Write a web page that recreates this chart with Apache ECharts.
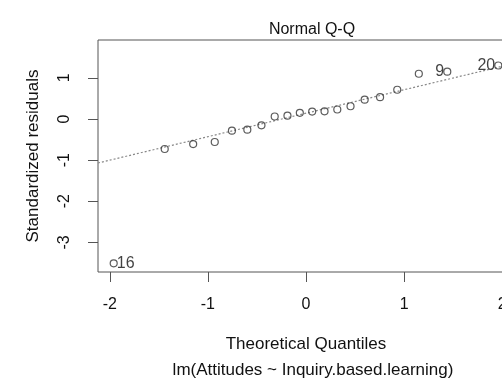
<!DOCTYPE html>
<html>
<head>
<meta charset="utf-8">
<script src="https://cdn.jsdelivr.net/npm/echarts@6/dist/echarts.min.js"></script>
<style>html,body{margin:0;padding:0;background:#fff}#c{width:502px;height:379px}</style>
</head>
<body>
<div id="c"></div>
<script>
// Theoretical quantiles (n = 20)
var quantiles = [-1.96, -1.44, -1.15, -0.93, -0.755, -0.598, -0.454, -0.319, -0.189, -0.063,
                 0.063, 0.189, 0.319, 0.454, 0.598, 0.755, 0.93, 1.15, 1.44, 1.96];
// Standardized residuals (sorted)
var residuals = [-3.51, -0.73, -0.61, -0.56, -0.285, -0.26, -0.155, 0.06, 0.08, 0.15,
                 0.18, 0.185, 0.23, 0.31, 0.47, 0.53, 0.71, 1.10, 1.15, 1.30];
// Point labels (observation numbers for extreme points)
var pointLabels = ['16', '', '', '', '', '', '', '', '', '', '', '', '', '', '', '', '', '', '9', '20'];
// Reference (qq) line endpoints
var lineQ = [-2.12, 2.12];
var lineR = [-1.07, 1.35];
// Tick labels
var xTicks = [-2, -1, 0, 1, 2];
var yTicks = [-3, -2, -1, 0, 1];

var FONT = "'Liberation Sans', Arial, sans-serif";
var chart = echarts.init(document.getElementById('c'), null, {renderer: 'canvas'});

var pts = quantiles.map(function (q, i) {
  return {value: [q, residuals[i]], name: pointLabels[i],
          label: {position: q < 0 ? 'right' : 'left'}};
});
var lineData = lineQ.map(function (q, i) { return [q, lineR[i]]; });

chart.setOption({
  animation: false,
  backgroundColor: '#fff',
  title: [
    {text: 'Normal Q-Q', left: 307, top: 17, textAlign: 'center',
     textStyle: {fontFamily: FONT, fontSize: 16, fontWeight: 'normal', color: '#111'}},
    {text: 'lm(Attitudes ~ Inquiry.based.learning)', left: 308, top: 357, textAlign: 'center',
     textStyle: {fontFamily: FONT, fontSize: 17, fontWeight: 'normal', color: '#111'}}
  ],
  grid: {left: 98, top: 40, width: 416, height: 232, show: true, outerBoundsMode: 'none',
         containLabel: false,
         borderColor: '#555', borderWidth: 1, backgroundColor: 'transparent'},
  xAxis: {
    type: 'value', min: -2.12, max: 2.12,
    name: 'Theoretical Quantiles', nameLocation: 'middle', nameGap: 64,
    nameTextStyle: {fontFamily: FONT, fontSize: 17, color: '#111'},
    axisLine: {show: false, onZero: false},
    splitLine: {show: false},
    axisTick: {show: true, length: 10, lineStyle: {color: '#555'}, customValues: xTicks},
    axisLabel: {fontFamily: FONT, fontSize: 16, color: '#111', margin: 25, customValues: xTicks}
  },
  yAxis: {
    type: 'value', min: -3.72, max: 1.92,
    name: 'Standardized residuals', nameLocation: 'middle', nameGap: 56, nameRotate: 90,
    nameTextStyle: {fontFamily: FONT, fontSize: 17, color: '#111'},
    axisLine: {show: false, onZero: false},
    splitLine: {show: false},
    axisTick: {show: true, length: 10, lineStyle: {color: '#555'}, customValues: yTicks},
    axisLabel: {fontFamily: FONT, fontSize: 16, color: '#111', margin: 25, rotate: 90, customValues: yTicks}
  },
  series: [
    {
      type: 'line', data: lineData, showSymbol: false, symbol: 'none', silent: true,
      lineStyle: {color: '#888', width: 1.2, type: [2, 2]}, z: 1
    },
    {
      type: 'scatter', data: pts, symbol: 'circle', symbolSize: 7,
      itemStyle: {color: 'transparent', borderColor: '#333', borderWidth: 1.2}, z: 2,
      label: {
        show: true, fontFamily: FONT, fontSize: 16, color: '#111', distance: -1,
        formatter: function (p) { return p.name; }
      }
    }
  ]
});
</script>
</body>
</html>
